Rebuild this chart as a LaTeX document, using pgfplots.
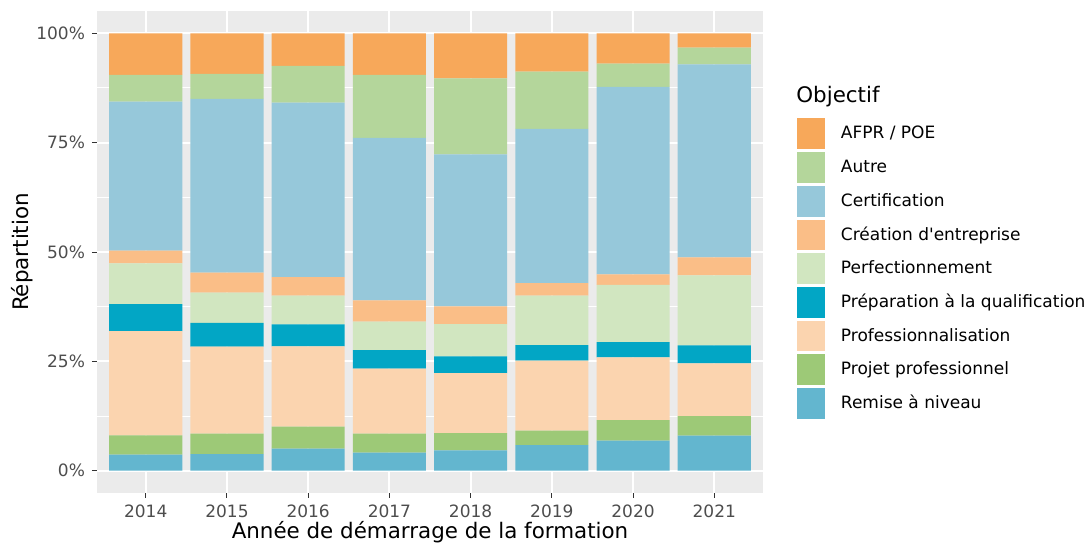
\documentclass[border=0pt]{standalone}
\usepackage{pgfplots}
\usepackage{pgfplotstable}
\pgfplotsset{compat=1.18}
\usepackage{fontspec}
\setmainfont{DejaVu Sans}
\newfontfamily\plainfont{DejaVu Sans}
\definecolor{cAFPR}{HTML}{F7A85A}
\definecolor{cAutre}{HTML}{B4D69B}
\definecolor{cCert}{HTML}{96C8DA}
\definecolor{cCrea}{HTML}{FABE87}
\definecolor{cPerf}{HTML}{D1E6C0}
\definecolor{cPrep}{HTML}{02A6C5}
\definecolor{cProf}{HTML}{FBD4AF}
\definecolor{cProj}{HTML}{9DC977}
\definecolor{cRem}{HTML}{63B6CF}
\definecolor{panelbg}{HTML}{EBEBEB}
\definecolor{ticktxt}{HTML}{4D4D4D}
\definecolor{tickcol}{HTML}{333333}
\pgfplotsset{sqlegend/.style={legend image code/.code={\fill[##1] (0pt,-7.7pt) rectangle (14pt,7.7pt);}}}
\pgfplotstableread{
x Remise Projet Prof Prep Perf Creation Cert Autre AFPR
1 3.66 4.43 23.85 6.17 9.31 2.88 34.06 6.11 9.53
2 3.82 4.64 19.89 5.42 6.93 4.57 39.71 5.72 9.30
3 5.03 5.03 18.38 5.03 6.54 4.27 39.85 8.39 7.48
4 4.12 4.34 14.86 4.27 6.48 4.89 37.10 14.41 9.53
5 4.66 3.96 13.72 3.81 7.39 4.05 34.75 17.37 10.29
6 5.88 3.26 16.01 3.59 11.27 2.90 35.21 13.10 8.78
7 6.86 4.73 14.34 3.49 13.04 2.44 42.82 5.33 6.95
8 8.00 4.51 12.04 4.12 16.00 4.12 44.12 3.80 3.29
}\datatable
\begin{document}
\begin{tikzpicture}
\useasboundingbox (0,0) rectangle (544pt,271pt);
\begin{axis}[
  at={(48.5pt,24.7pt)}, anchor=south west,
  scale only axis, width=333pt, height=240.6pt,
  xmin=0.4, xmax=8.6, ymin=-5, ymax=105,
  ybar stacked, bar width=0.9, bar shift=0pt,
  axis background/.style={fill=panelbg},
  axis line style={draw=none},
  xtick={1,...,8},
  xticklabels={2014,2015,2016,2017,2018,2019,2020,2021},
  ytick={0,25,50,75,100},
  yticklabels={0\%,25\%,50\%,75\%,100\%},
  minor ytick={12.5,37.5,62.5,87.5},
  grid=both,
  major grid style={white, line width=1pt},
  minor grid style={white, line width=0.5pt},
  minor tick length=0pt,
  major tick length=2.5pt,
  tick align=outside,
  xtick pos=bottom, ytick pos=left,
  tick style={tickcol, line width=0.5pt},
  ticklabel style={font=\fontsize{8.5}{10}\selectfont, text=ticktxt},
  xlabel={Année de démarrage de la formation},
  ylabel={Répartition},
  label style={font=\fontsize{10.7}{12}\selectfont},
  xlabel style={at={(axis description cs:0.5,-0.0819)}, anchor=center},
  ylabel style={at={(axis description cs:-0.1126,0.5)}, anchor=center},
  reverse legend,
  legend cell align=left,
  legend style={draw=none, fill=none, inner sep=0pt, outer sep=0pt,
    at={(rel axis cs:1.051,0.7775)}, anchor=north west,
    row sep=1.45pt,
    font=\fontsize{8.5}{10}\selectfont,
    nodes={inner sep=0pt},
    /tikz/every odd column/.append style={column sep=8pt}},
  every axis plot/.append style={draw=none, sqlegend},
]
\addplot[fill=cRem] table[x=x,y=Remise]{\datatable};
\addplot[fill=cProj] table[x=x,y=Projet]{\datatable};
\addplot[fill=cProf] table[x=x,y=Prof]{\datatable};
\addplot[fill=cPrep] table[x=x,y=Prep]{\datatable};
\addplot[fill=cPerf] table[x=x,y=Perf]{\datatable};
\addplot[fill=cCrea] table[x=x,y=Creation]{\datatable};
\addplot[fill=cCert] table[x=x,y=Cert]{\datatable};
\addplot[fill=cAutre] table[x=x,y=Autre]{\datatable};
\addplot[fill=cAFPR] table[x=x,y=AFPR]{\datatable};
\legend{Remise à niveau,Projet professionnel,Professionnalisation,Préparation à la qualification,Perfectionnement,Création d{\plainfont'}entreprise,Certification,Autre,AFPR / POE}
\end{axis}
\node[anchor=west, font=\fontsize{10.7}{12}\selectfont, inner sep=0pt] at (398pt,222.5pt) {Objectif};
\end{tikzpicture}
\end{document}
